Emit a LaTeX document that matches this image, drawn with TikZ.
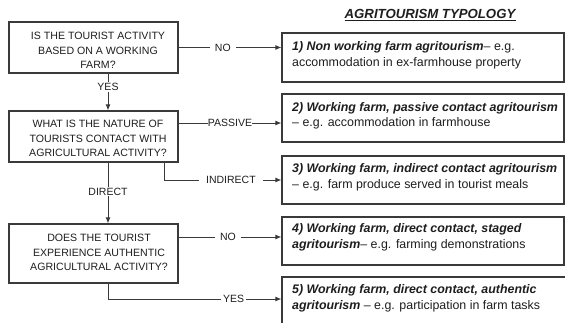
\documentclass[tikz,border=0pt]{standalone}
\usepackage{fontspec}
\setmainfont{Liberation Sans}
\usetikzlibrary{arrows.meta,calc}
\definecolor{ink}{HTML}{1E1E1E}
\definecolor{edge}{HTML}{3A3A3A}
\begin{document}
\begin{tikzpicture}[x=1pt,y=-1pt,
  qbox/.style={draw=edge,line width=1.2pt,minimum width=169pt,inner sep=0pt},
  tbox/.style={draw=edge,line width=1.2pt,minimum width=282pt,inner sep=0pt},
  qtext/.style={text=ink,font=\fontsize{10.6}{14.5}\selectfont,align=center,inner sep=0pt},
  ttext/.style={text=ink,font=\fontsize{12.4}{15.5}\selectfont,align=left,anchor=west,inner sep=0pt},
  lbl/.style={fill=white,text=ink,font=\fontsize{10.5}{12}\selectfont,inner ysep=1pt,inner xsep=5pt},
  conn/.style={draw=edge,line width=0.9pt,-{Latex[length=6pt,width=5pt]}}]
\useasboundingbox (0,0) rectangle (565,323);
\fill[white] (0,0) rectangle (565,323);

% title
\node[text=ink,font=\fontsize{13.2}{15}\selectfont] (title) at (430.5,15) {\underline{\textbf{\textit{AGRITOURISM TYPOLOGY}}}};

% question boxes
\node[qbox,minimum height=51pt] (q1) at (93.5,47.5) {};
\node[qtext] (q1t) at (98,50.5) {IS THE TOURIST ACTIVITY\\BASED ON A WORKING\\FARM?};
\node[qbox,minimum height=51pt] (q2) at (93.5,136.5) {};
\node[qtext] (q2t) at (98,138.5) {WHAT IS THE NATURE OF\\TOURISTS CONTACT WITH\\AGRICULTURAL ACTIVITY?};
\node[qbox,minimum height=59pt] (q3) at (93.5,253.5) {};
\node[qtext] (q3t) at (99,252.5) {DOES THE TOURIST\\EXPERIENCE AUTHENTIC\\AGRICULTURAL ACTIVITY?};

% typology boxes
\node[tbox,minimum height=49pt] (r1) at (423,57.5) {};
\node[ttext] (r1t) at (292,55.5) {\textbf{\textit{1) Non working farm agritourism}}– e.g.\\accommodation in ex-farmhouse property};
\node[tbox,minimum height=48pt] (r2) at (423,118) {};
\node[ttext] (r2t) at (292,116) {\textbf{\textit{2) Working farm, passive contact agritourism}}\\– e.g. accommodation in farmhouse};
\node[tbox,minimum height=48pt] (r3) at (423,180) {};
\node[ttext] (r3t) at (292,177.5) {\textbf{\textit{3) Working farm, indirect contact agritourism}}\\– e.g. farm produce served in tourist meals};
\node[tbox,minimum height=48pt] (r4) at (423,241) {};
\node[ttext] (r4t) at (292,237.5) {\textbf{\textit{4) Working farm, direct contact, staged}}\\\textbf{\textit{agritourism}}– e.g. farming demonstrations};
\node[tbox,minimum height=50pt,minimum width=288pt] (r5) at (426,302) {};
\node[ttext] (r5t) at (292,298.5) {\textbf{\textit{5) Working farm, direct contact, authentic}}\\\textbf{\textit{agritourism}} – e.g. participation in farm tasks};

% connectors
\draw[conn] (q1.east) -- (q1.east -| r1.west) node[lbl,pos=0.43] {NO};
\draw[conn] ([xshift=14.5pt]q1.south) -- ([xshift=14.5pt]q2.north) node[lbl,pos=0.37,inner xsep=1pt] {YES};
\draw[conn] ([yshift=13.5pt]q2.east) -- ([yshift=13.5pt]q2.east -| r2.west) node[lbl,pos=0.5,inner xsep=0pt] {PASSIVE};
\draw[conn] ([xshift=-14pt]q2.south east) |- (r3.west) node[lbl,pos=0.784,inner xsep=7pt] {INDIRECT};
\draw[conn] ([xshift=14.5pt]q2.south) -- ([xshift=14.5pt]q3.north) node[lbl,pos=0.48,inner xsep=1pt] {DIRECT};
\draw[conn] ([yshift=16.5pt]q3.east) -- ([yshift=16.5pt]q3.east -| r4.west) node[lbl,pos=0.48] {NO};
\draw[conn] ([xshift=14.5pt]q3.south) |- ([yshift=3pt]r5.west) node[lbl,pos=0.862,inner xsep=2pt] {YES};
\end{tikzpicture}
\end{document}
